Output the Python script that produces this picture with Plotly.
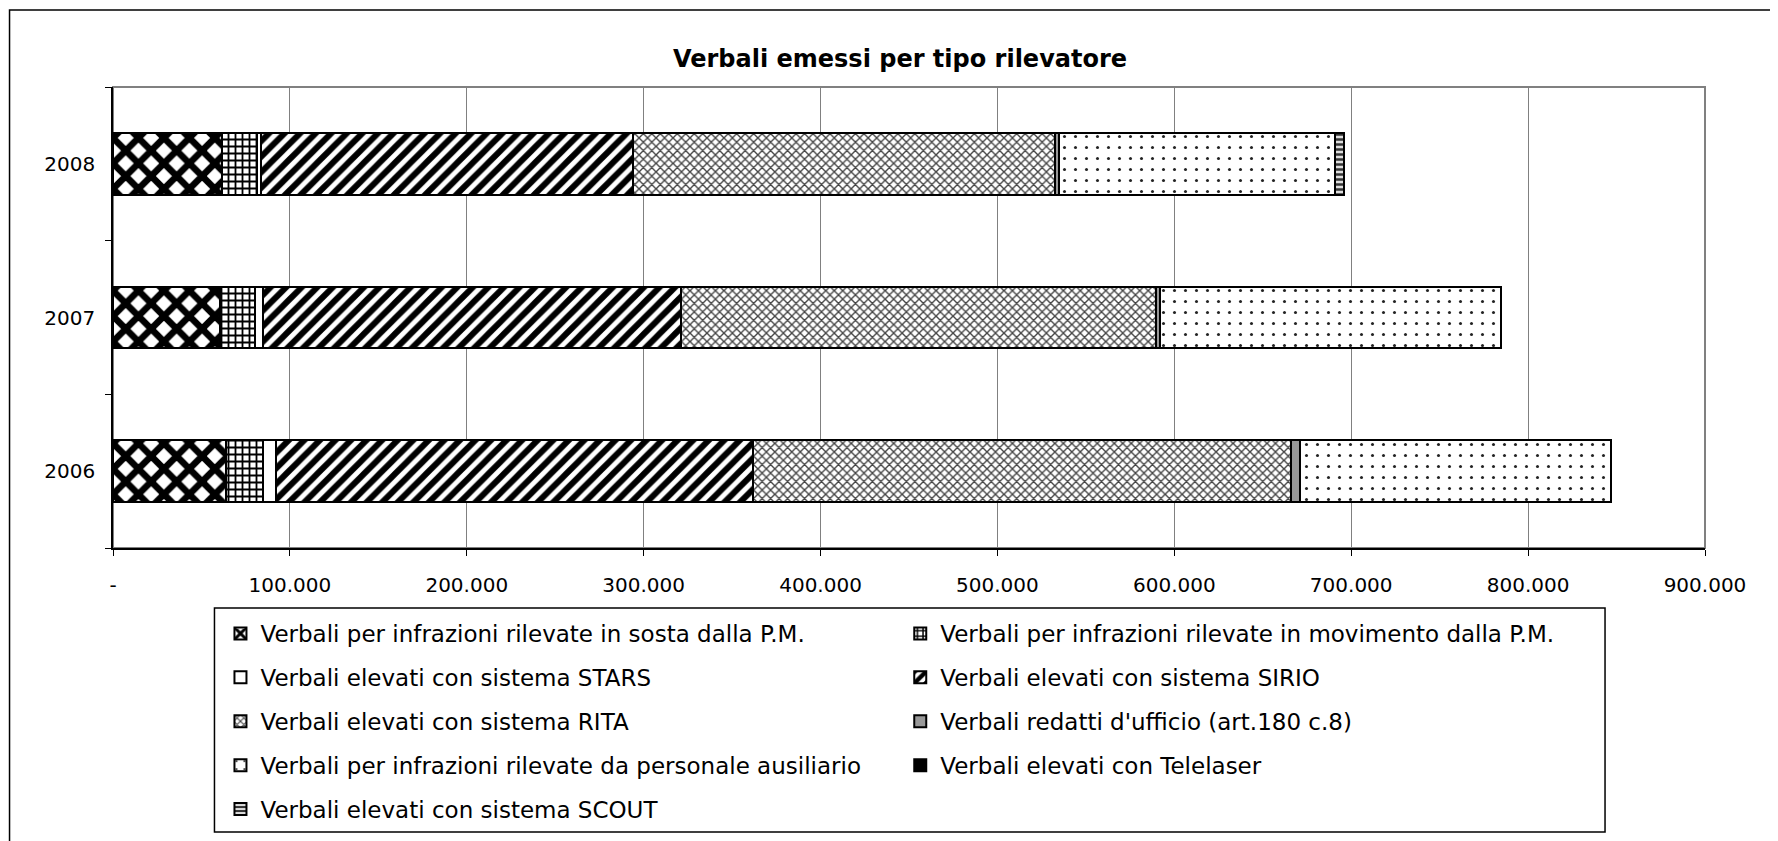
import plotly.graph_objects as go

years = ["2006", "2007", "2008"]
series_names = [
    "Verbali per infrazioni rilevate in sosta dalla P.M.",
    "Verbali per infrazioni rilevate in movimento dalla P.M.",
    "Verbali elevati con sistema STARS",
    "Verbali elevati con sistema SIRIO",
    "Verbali elevati con sistema RITA",
    "Verbali redatti d'ufficio (art.180 c.8)",
    "Verbali per infrazioni rilevate da personale ausiliario",
    "Verbali elevati con Telelaser",
    "Verbali elevati con sistema SCOUT",
]
sosta = [63900, 60400, 61700]
movimento = [21000, 19700, 19900]
stars = [7500, 4800, 1800]
sirio = [269600, 236100, 210700]
rita = [304000, 268400, 238700]
ufficio = [5000, 2600, 2200]
ausiliario = [176000, 192500, 155900]
telelaser = [0, 0, 0]
scout = [0, 0, 5200]

x_tickvals = [0, 100000, 200000, 300000, 400000, 500000, 600000, 700000, 800000, 900000]
x_ticktext = ["-", "100.000", "200.000", "300.000", "400.000", "500.000",
              "600.000", "700.000", "800.000", "900.000"]

values = [sosta, movimento, stars, sirio, rita, ufficio, ausiliario, telelaser, scout]

styles = [
    dict(color="white", pattern=dict(shape="x", fgcolor="black", bgcolor="white", size=18,
                                     solidity=0.6, fgopacity=1)),
    dict(color="white", pattern=dict(shape="+", fgcolor="black", bgcolor="white", size=7,
                                     solidity=0.45, fgopacity=1)),
    dict(color="white"),
    dict(color="white", pattern=dict(shape="/", fgcolor="black", bgcolor="white", size=11,
                                     solidity=0.55, fgopacity=1)),
    dict(color="white", pattern=dict(shape="x", fgcolor="#444444", bgcolor="white", size=6,
                                     solidity=0.4, fgopacity=1)),
    dict(color="#999999"),
    dict(color="white", pattern=dict(shape=".", fgcolor="#222222", bgcolor="white", size=11,
                                     solidity=0.06, fgopacity=1)),
    dict(color="black"),
    dict(color="#999999", pattern=dict(shape="-", fgcolor="#333333", bgcolor="#dddddd", size=5,
                                       solidity=0.5, fgopacity=1)),
]
legend_of = ["legend", "legend2", "legend", "legend2", "legend", "legend2", "legend", "legend2", "legend"]

fig = go.Figure()
for i, (name, vals, st) in enumerate(zip(series_names, values, styles)):
    marker = dict(color=st["color"], line=dict(color="black", width=2))
    if "pattern" in st:
        marker["pattern"] = st["pattern"]
    fig.add_trace(go.Bar(
        y=years, x=vals, name=name, orientation="h", marker=marker,
        legend=legend_of[i], legendgroup="g%d" % i, width=0.4,
    ))

W, H = 1778, 841
OFF = 8  # page offset of the plot div in the screenshot
ML, MT = 112.5 - OFF, 87 - OFF
PR, PB = 1705 - OFF, 548 - OFF
MR, MB = W - PR, H - PB
PW = W - ML - MR
PH = H - MT - MB

def px_x(px):
    return (px - OFF - ML) / PW

def px_y(py):
    return (H - MB - (py - OFF)) / PH

font_family = "DejaVu Sans, Verdana, sans-serif"

fig.update_layout(
    width=W, height=H,
    margin=dict(l=ML, r=MR, t=MT, b=MB, autoexpand=False),
    barmode="stack",
    bargap=0.6,
    plot_bgcolor="white", paper_bgcolor="white",
    font=dict(family=font_family, size=20, color="black"),
    title=dict(text="<b>Verbali emessi per tipo rilevatore</b>", x=(900 - OFF) / W, xanchor="center",
               y=1 - (59 - OFF) / H, yanchor="middle", yref="container",
               font=dict(size=24, family=font_family, color="black")),
    xaxis=dict(range=[0, 900000], tickvals=x_tickvals, ticktext=x_ticktext,
               showgrid=True, gridcolor="#808080", gridwidth=1,
               showline=True, linecolor="black", linewidth=1.5,
               ticks="outside", ticklen=6, tickcolor="black", zeroline=False,
               ticklabelstandoff=12, tickfont=dict(size=20)),
    yaxis=dict(type="category", categoryorder="array", categoryarray=years,
               showline=True, linecolor="black", linewidth=1.5,
               ticks="outside", ticklen=6, tickcolor="black", tickson="boundaries",
               showgrid=False, ticklabelstandoff=12, tickfont=dict(size=20)),
    legend=dict(x=px_x(220), y=px_y(612), xanchor="left", yanchor="top",
                orientation="v", tracegroupgap=11, bgcolor="rgba(0,0,0,0)",
                font=dict(size=23, family=font_family), itemclick=False, itemdoubleclick=False),
    legend2=dict(x=px_x(900), y=px_y(612), xanchor="left", yanchor="top",
                 orientation="v", tracegroupgap=11, bgcolor="rgba(0,0,0,0)",
                 font=dict(size=23, family=font_family), itemclick=False, itemdoubleclick=False),
    showlegend=True,
)

# plot area border (gray), legend box, outer chart frame
fig.add_shape(type="rect", xref="paper", yref="paper", x0=0, x1=1, y0=0, y1=1,
              line=dict(color="#808080", width=2), layer="below")
fig.add_shape(type="rect", xref="paper", yref="paper",
              x0=px_x(214), x1=px_x(1605), y0=px_y(832), y1=px_y(608),
              line=dict(color="black", width=1.5))
fig.add_shape(type="rect", xref="paper", yref="paper",
              x0=px_x(9), x1=px_x(1776), y0=px_y(850), y1=px_y(10),
              line=dict(color="black", width=1.5))

fig.write_html("out.html")
